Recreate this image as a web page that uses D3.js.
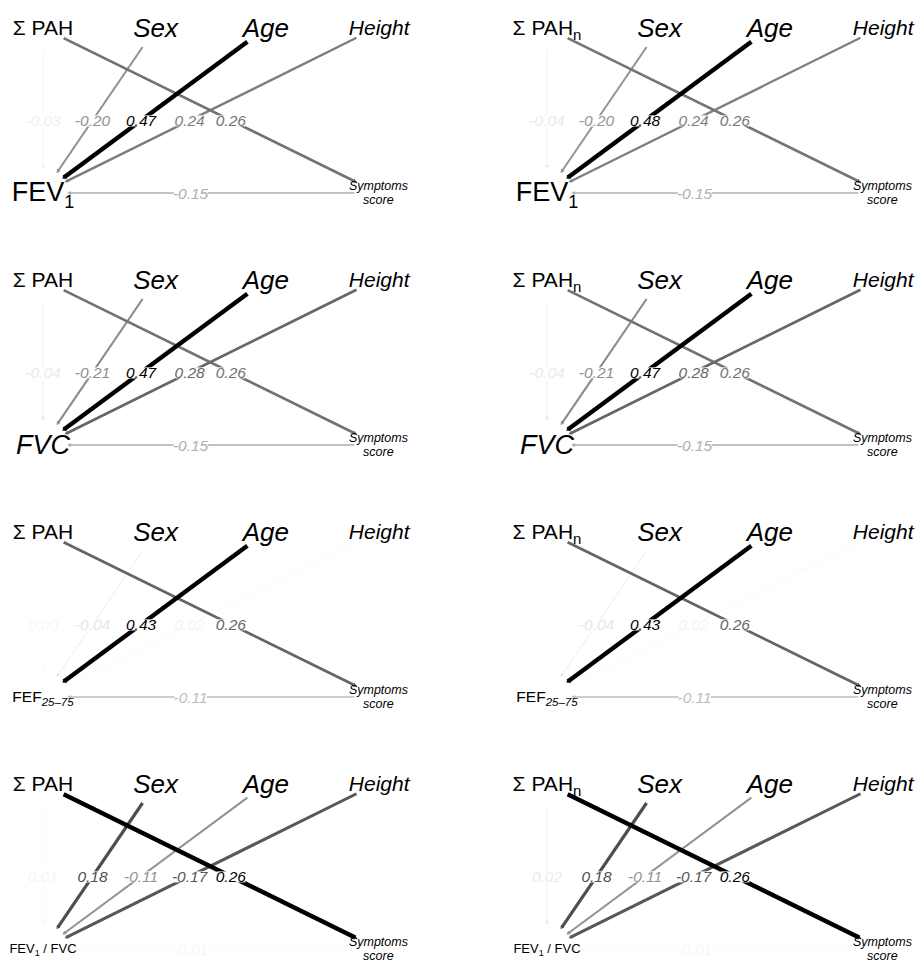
<!DOCTYPE html>
<html>
<head>
<meta charset="utf-8">
<script src="https://cdn.jsdelivr.net/npm/d3@7"></script>
<style>
  body { margin: 0; background: #fff; }
  text { font-family: "Liberation Sans", Arial, Helvetica, sans-serif; }
</style>
</head>
<body>
<div id="chart"></div>
<script>
// panels are row-major: rows = outcome, columns = exposure
const exposures = ["ΣPAH", "ΣPAHn"];
const outcomes = ["FEV1", "FVC", "FEF25-75", "FEV1/FVC"];

// standardised path coefficients, one value per panel
const pahToOutcome      = [-0.03, -0.04, -0.04, -0.04, 0.004, 0.00, 0.01, 0.02];
const sexToOutcome      = [-0.20, -0.20, -0.21, -0.21, -0.04, -0.04, 0.18, 0.18];
const ageToOutcome      = [0.47, 0.48, 0.47, 0.47, 0.43, 0.43, -0.11, -0.11];
const heightToOutcome   = [0.24, 0.24, 0.28, 0.28, 0.02, 0.02, -0.17, -0.17];
const pahToSymptoms     = [0.26, 0.26, 0.26, 0.26, 0.26, 0.26, 0.26, 0.26];
const symptomsToOutcome = [-0.15, -0.15, -0.15, -0.15, -0.11, -0.11, -0.01, -0.01];

const width = 919, height = 962;
const panelW = 504, panelH = 252;

const svg = d3.select("#chart").append("svg")
    .attr("width", width)
    .attr("height", height)
    .attr("viewBox", [0, 0, width, height]);

// node grid positions (layout units)
const nodes = {
    pah:    { gx: 0,    gy: 0, r: 23 },
    sex:    { gx: 1.02, gy: 0, r: 23 },
    age:    { gx: 2.02, gy: 0, r: 23 },
    height: { gx: 3.02, gy: 0, r: 22 },
    out:    { gx: 0,    gy: 1, r: 24 },
    sym:    { gx: 3.04, gy: 1, r: 24 }
};

const x = d3.scaleLinear().domain([0, 3]).range([43, 374]);
const y = d3.scaleLinear().domain([0, 1]).range([28, 193]);

const grey = d3.scaleLinear().domain([0, 1]).range(["#ffffff", "#000000"]).clamp(true);
const thick = d3.scaleLinear().domain([0, 1]).range([0.4, 4.4]).clamp(true);

const labelPos = 0.56;
const fmt = v => v.toFixed(2);

for (let i = 0; i < 8; i++) {
    const col = i % 2, row = Math.floor(i / 2);
    const g = svg.append("g").attr("transform", `translate(${col * panelW},${row * panelH})`);

    let edges = [
        { s: "pah", t: "out", w: pahToOutcome[i] },
        { s: "sex", t: "out", w: sexToOutcome[i] },
        { s: "age", t: "out", w: ageToOutcome[i] },
        { s: "height", t: "out", w: heightToOutcome[i] },
        { s: "pah", t: "sym", w: pahToSymptoms[i] },
        { s: "sym", t: "out", w: symptomsToOutcome[i] }
    ];
    const maxW = d3.max(edges, e => Math.abs(e.w));

    edges.forEach(e => {
        const a = nodes[e.s], b = nodes[e.t];
        const x0 = x(a.gx), y0 = y(a.gy), x1 = x(b.gx), y1 = y(b.gy);
        const len = Math.hypot(x1 - x0, y1 - y0);
        const ux = (x1 - x0) / len, uy = (y1 - y0) / len;
        const rel = Math.abs(e.w) / maxW;
        e.col = grey(Math.max(rel, 0.03 * (e.w !== 0)));
        e.sw = thick(rel);
        e.x0 = x0 + ux * a.r; e.y0 = y0 + uy * a.r;
        e.x1 = x1 - ux * b.r; e.y1 = y1 - uy * b.r;
        e.ux = ux; e.uy = uy;
        e.lx = x0 + (x1 - x0) * labelPos;
        e.ly = y0 + (y1 - y0) * labelPos;
        e.rel = rel;
    });
    edges = edges.sort((p, q) => p.rel - q.rel);

    // edges
    g.selectAll("line.edge")
        .data(edges)
        .join("line")
        .attr("class", "edge")
        .attr("x1", d => d.x0)
        .attr("y1", d => d.y0)
        .attr("x2", d => d.x1 - d.ux * 2)
        .attr("y2", d => d.y1 - d.uy * 2)
        .attr("stroke", d => d.col)
        .attr("stroke-width", d => d.sw);

    // small arrow heads
    g.selectAll("path.head")
        .data(edges)
        .join("path")
        .attr("class", "head")
        .attr("d", d => {
            const L = 4, hw = Math.max(2, d.sw / 2 + 0.3);
            const bx = d.x1 - d.ux * L, by = d.y1 - d.uy * L;
            const px = -d.uy, py = d.ux;
            return `M${d.x1},${d.y1}L${bx + px * hw},${by + py * hw}L${bx - px * hw},${by - py * hw}Z`;
        })
        .attr("fill", d => d.col);

    // edge labels with white backing
    const lab = g.selectAll("g.lab")
        .data(edges)
        .join("g")
        .attr("class", "lab");

    const lt = lab.append("text")
        .attr("x", d => d.lx)
        .attr("y", d => d.ly + 6)
        .attr("text-anchor", "middle")
        .attr("font-size", 15.5)
        .attr("font-style", "italic")
        .attr("fill", d => d.col)
        .text(d => fmt(d.w));

    lt.each(function (d) {
        const bb = this.getBBox();
        d3.select(this.parentNode).insert("rect", "text")
            .attr("x", bb.x + 1)
            .attr("y", d.ly + 6 - 11)
            .attr("width", bb.width - 2)
            .attr("height", 11)
            .attr("fill", "#fff");
    });

    // node labels
    const pah = g.append("text")
        .attr("x", x(nodes.pah.gx))
        .attr("y", y(nodes.pah.gy) + 7)
        .attr("text-anchor", "middle")
        .attr("font-size", 21)
        .text("Σ PAH");
    if (exposures[col] === "ΣPAHn") {
        pah.append("tspan").attr("font-size", 15).attr("dy", 5).text("n");
    }

    g.append("text")
        .attr("x", x(nodes.sex.gx))
        .attr("y", y(nodes.sex.gy) + 9)
        .attr("text-anchor", "middle")
        .attr("font-size", 26)
        .attr("font-style", "italic")
        .text("Sex");

    g.append("text")
        .attr("x", x(nodes.age.gx))
        .attr("y", y(nodes.age.gy) + 9)
        .attr("text-anchor", "middle")
        .attr("font-size", 26)
        .attr("font-style", "italic")
        .text("Age");

    g.append("text")
        .attr("x", x(nodes.height.gx) + 3)
        .attr("y", y(nodes.height.gy) + 7)
        .attr("text-anchor", "middle")
        .attr("font-size", 21)
        .attr("font-style", "italic")
        .text("Height");

    const sx = x(nodes.sym.gx), sy = y(nodes.sym.gy);
    const sym = g.append("text")
        .attr("text-anchor", "middle")
        .attr("font-size", 12.5)
        .attr("font-style", "italic");
    sym.append("tspan").attr("x", sx).attr("y", sy - 3).text("Symptoms");
    sym.append("tspan").attr("x", sx).attr("y", sy + 10.5).text("score");

    const ox = x(nodes.out.gx), oy = y(nodes.out.gy);
    const out = g.append("text").attr("x", ox).attr("text-anchor", "middle");
    const o = outcomes[row];
    if (o === "FEV1") {
        out.attr("y", oy + 8).attr("font-size", 27);
        out.append("tspan").text("FEV");
        out.append("tspan").attr("font-size", 18).attr("dy", 7).text("1");
    } else if (o === "FVC") {
        out.attr("y", oy + 9).attr("font-size", 27).attr("font-style", "italic").text("FVC");
    } else if (o === "FEF25-75") {
        out.attr("y", oy + 5).attr("font-size", 15.5);
        out.append("tspan").text("FEF");
        out.append("tspan").attr("font-size", 11.5).attr("font-style", "italic").attr("dy", 4).text("25–75");
    } else {
        out.attr("y", oy + 4).attr("font-size", 13);
        out.append("tspan").text("FEV");
        out.append("tspan").attr("font-size", 9).attr("dy", 3).text("1");
        out.append("tspan").attr("dy", -3).text(" / FVC");
    }
}
</script>
</body>
</html>
